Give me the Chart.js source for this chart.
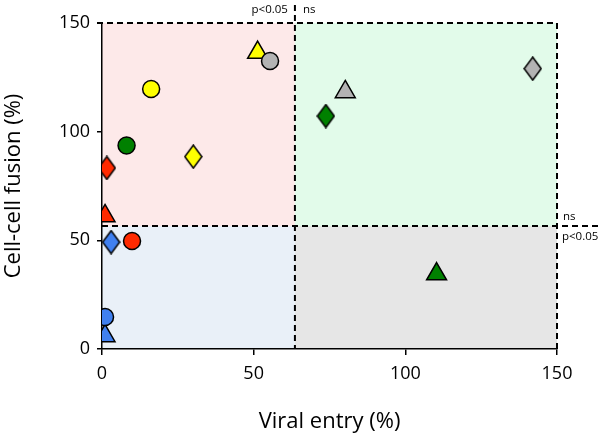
<!DOCTYPE html>
<html>
<head>
<meta charset="utf-8">
<script src="https://cdn.jsdelivr.net/npm/chart.js@4"></script>
<style>
  html, body { margin: 0; padding: 0; background: #ffffff; }
  #wrap { width: 600px; height: 436px; position: relative; }
</style>
</head>
<body>
<div id="wrap"><canvas id="fusionChart"></canvas></div>
<script>
// values (viral entry %, cell-cell fusion %)
var circleX = [16.2, 55.4, 8.1, 9.9, 1.0];
var circleY = [119.6, 132.5, 93.6, 49.7, 14.7];
var circleColors = ["#ffff00", "#b3b3b3", "#008000", "#ff2a00", "#4080f0"];

var diamondX = [30.1, 1.6, 3.0, 73.8, 142.0];
var diamondY = [88.5, 83.3, 49.2, 107.2, 129.0];
var diamondColors = ["#ffff00", "#ff2a00", "#4080f0", "#008000", "#b3b3b3"];

var triangleX = [51.3, 1.0, 1.0, 80.2, 110.3];
var triangleY = [136.4, 61.2, 6.0, 118.3, 34.5];
var triangleColors = ["#ffff00", "#ff2a00", "#4080f0", "#b3b3b3", "#008000"];

var axisTicks = [0, 50, 100, 150];
var entryCutoff = 63.6;
var fusionCutoff = 56.6;

var quadrantColors = {
  topLeft: "#fde9e9",
  topRight: "#e2fbea",
  bottomLeft: "#e9f0f8",
  bottomRight: "#e6e6e6",
};

var fontName = "'Open Sans', 'DejaVu Sans', sans-serif";

function toPoints(xs, ys) {
  return xs.map(function (x, i) {
    return { x: x, y: ys[i] };
  });
}

// tall diamond marker, drawn once per colour
function makeDiamond(color) {
  var c = document.createElement("canvas");
  c.width = 19;
  c.height = 25;
  var g = c.getContext("2d");
  g.beginPath();
  g.moveTo(9.5, 1);
  g.lineTo(18, 12.5);
  g.lineTo(9.5, 24);
  g.lineTo(1, 12.5);
  g.closePath();
  g.fillStyle = color;
  g.fill();
  g.lineWidth = 1.5;
  g.strokeStyle = "#000";
  g.stroke();
  return c;
}

var quadrantPlugin = {
  id: "quadrants",
  beforeDraw: function (chart) {
    var ctx = chart.ctx;
    var xs = chart.scales.x;
    var ys = chart.scales.y;
    var l = xs.getPixelForValue(0);
    var r = xs.getPixelForValue(150);
    var m = xs.getPixelForValue(entryCutoff);
    var t = ys.getPixelForValue(150);
    var b = ys.getPixelForValue(0);
    var h = ys.getPixelForValue(fusionCutoff);
    ctx.save();
    ctx.fillStyle = quadrantColors.topLeft;
    ctx.fillRect(l, t, m - l, h - t);
    ctx.fillStyle = quadrantColors.topRight;
    ctx.fillRect(m, t, r - m, h - t);
    ctx.fillStyle = quadrantColors.bottomLeft;
    ctx.fillRect(l, h, m - l, b - h);
    ctx.fillStyle = quadrantColors.bottomRight;
    ctx.fillRect(m, h, r - m, b - h);
    ctx.restore();
  },
  beforeDatasetsDraw: function (chart) {
    var ctx = chart.ctx;
    var xs = chart.scales.x;
    var ys = chart.scales.y;
    var l = xs.getPixelForValue(0);
    var r = xs.getPixelForValue(150);
    var m = xs.getPixelForValue(entryCutoff);
    var t = ys.getPixelForValue(150);
    var b = ys.getPixelForValue(0);
    var h = ys.getPixelForValue(fusionCutoff);
    ctx.save();
    ctx.strokeStyle = "#000";
    ctx.lineWidth = 2;
    ctx.setLineDash([6, 4]);
    ctx.beginPath();
    ctx.moveTo(l - 5, t);
    ctx.lineTo(r, t);
    ctx.moveTo(r, t);
    ctx.lineTo(r, b);
    ctx.moveTo(m, 5);
    ctx.lineTo(m, b);
    ctx.moveTo(l, h);
    ctx.lineTo(chart.width, h);
    ctx.stroke();
    ctx.setLineDash([]);

    ctx.fillStyle = "#000";
    ctx.font = "11.5px " + fontName;
    ctx.textBaseline = "middle";
    ctx.textAlign = "right";
    ctx.fillText("p<0.05", m - 7, 10);
    ctx.textAlign = "left";
    ctx.fillText("ns", m + 8, 10);
    ctx.fillText("ns", r + 6, h - 9);
    ctx.fillText("p<0.05", r + 5, h + 11);
    ctx.restore();
  },
};

var ctx = document.getElementById("fusionChart").getContext("2d");

new Chart(ctx, {
  type: "scatter",
  data: {
    datasets: [
      {
        label: "circles",
        data: toPoints(circleX, circleY),
        pointStyle: "circle",
        pointRadius: 8.5,
        backgroundColor: circleColors,
        borderColor: "#000",
        borderWidth: 1.5,
      },
      {
        label: "diamonds",
        data: toPoints(diamondX, diamondY),
        pointStyle: diamondColors.map(makeDiamond),
        pointRadius: 10,
      },
      {
        label: "triangles",
        data: toPoints(triangleX, triangleY),
        pointStyle: "triangle",
        pointRadius: 11.5,
        backgroundColor: triangleColors,
        borderColor: "#000",
        borderWidth: 1.5,
      },
    ],
  },
  options: {
    responsive: true,
    maintainAspectRatio: false,
    animation: false,
    layout: {
      padding: { left: 0, top: 23, right: 43, bottom: 0 },
    },
    plugins: {
      legend: { display: false },
      tooltip: { enabled: false },
    },
    scales: {
      x: {
        type: "linear",
        min: 0,
        max: 150,
        afterBuildTicks: function (scale) {
          scale.ticks = axisTicks.map(function (v) {
            return { value: v };
          });
        },
        afterFit: function (scale) {
          scale.height = 87;
        },
        grid: {
          drawOnChartArea: false,
          tickLength: 6,
          color: "#000",
          lineWidth: 1.5,
        },
        border: { color: "#000", width: 1.5 },
        ticks: {
          color: "#000",
          padding: 8,
          font: { family: fontName, size: 18 },
        },
        title: {
          display: true,
          text: "Viral entry (%)",
          color: "#000",
          padding: { top: 0, bottom: 1 },
          font: { family: fontName, size: 22 },
        },
      },
      y: {
        type: "linear",
        min: 0,
        max: 150,
        afterBuildTicks: function (scale) {
          scale.ticks = axisTicks.map(function (v) {
            return { value: v };
          });
        },
        afterFit: function (scale) {
          scale.width = 102;
        },
        grid: {
          drawOnChartArea: false,
          tickLength: 5,
          color: "#000",
          lineWidth: 1.5,
        },
        border: { color: "#000", width: 1.5 },
        ticks: {
          color: "#000",
          padding: 7,
          font: { family: fontName, size: 18 },
        },
        title: {
          display: true,
          text: "Cell-cell fusion (%)",
          color: "#000",
          padding: { top: 1, bottom: 0 },
          font: { family: fontName, size: 22 },
        },
      },
    },
  },
  plugins: [quadrantPlugin],
});
</script>
</body>
</html>
